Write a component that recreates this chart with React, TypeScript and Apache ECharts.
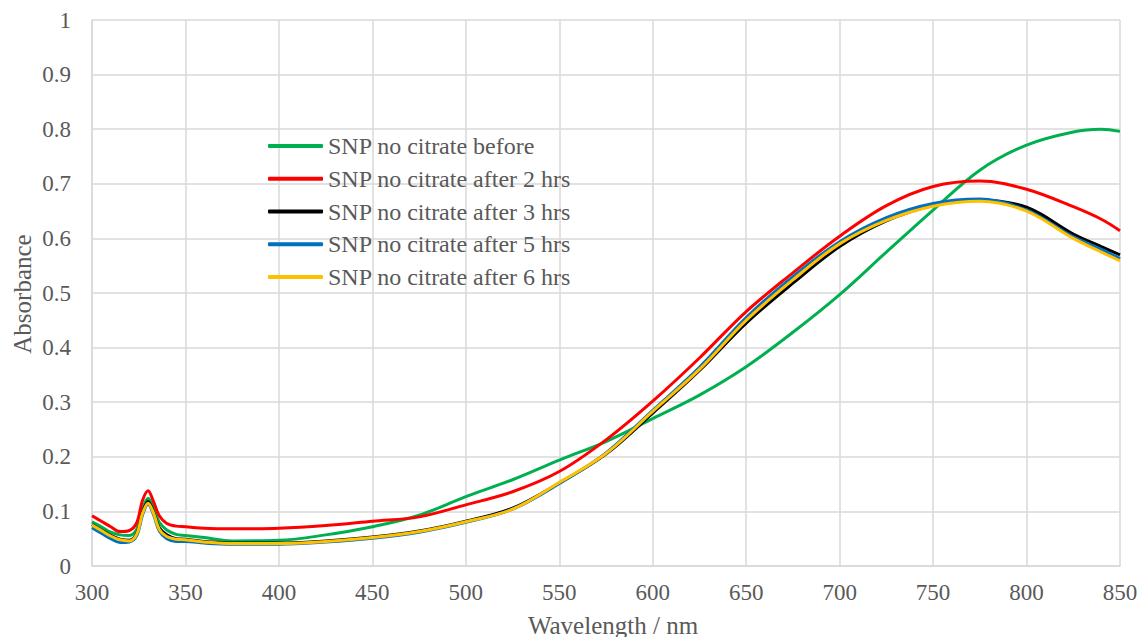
import React, { useEffect, useRef } from "react";
import * as echarts from "echarts";

const wavelengths = [300, 305, 310, 315, 320, 324, 327, 330, 333, 336, 340, 345, 350, 360, 375, 400, 425, 450, 475, 500, 525, 550, 575, 600, 625, 650, 675, 700, 725, 750, 775, 800, 825, 840, 850];

const seriesNames = [
  "SNP no citrate before",
  "SNP no citrate after 2 hrs",
  "SNP no citrate after 3 hrs",
  "SNP no citrate after 5 hrs",
  "SNP no citrate after 6 hrs",
];

const before = [0.081, 0.072, 0.062, 0.057, 0.056, 0.068, 0.104, 0.124, 0.106, 0.08, 0.066, 0.058, 0.056, 0.052, 0.046, 0.047, 0.057, 0.072, 0.093, 0.127, 0.158, 0.194, 0.228, 0.27, 0.313, 0.365, 0.428, 0.497, 0.575, 0.652, 0.725, 0.771, 0.795, 0.8, 0.796];
const after2 = [0.092, 0.082, 0.072, 0.063, 0.065, 0.08, 0.12, 0.138, 0.117, 0.092, 0.078, 0.073, 0.072, 0.069, 0.068, 0.069, 0.074, 0.082, 0.09, 0.112, 0.136, 0.173, 0.231, 0.302, 0.381, 0.466, 0.537, 0.604, 0.66, 0.695, 0.705, 0.69, 0.658, 0.635, 0.614];
const after3 = [0.076, 0.066, 0.056, 0.049, 0.047, 0.06, 0.098, 0.118, 0.098, 0.07, 0.057, 0.05, 0.049, 0.045, 0.042, 0.042, 0.046, 0.053, 0.064, 0.082, 0.106, 0.152, 0.205, 0.28, 0.358, 0.445, 0.518, 0.585, 0.632, 0.66, 0.67, 0.657, 0.608, 0.585, 0.57];
const after5 = [0.07, 0.06, 0.05, 0.043, 0.044, 0.056, 0.093, 0.113, 0.093, 0.064, 0.05, 0.045, 0.045, 0.042, 0.04, 0.04, 0.044, 0.051, 0.062, 0.08, 0.104, 0.151, 0.207, 0.285, 0.364, 0.455, 0.53, 0.594, 0.638, 0.664, 0.672, 0.652, 0.603, 0.58, 0.563];
const after6 = [0.075, 0.065, 0.055, 0.048, 0.046, 0.059, 0.096, 0.115, 0.096, 0.067, 0.054, 0.049, 0.048, 0.044, 0.041, 0.041, 0.045, 0.052, 0.063, 0.081, 0.104, 0.153, 0.206, 0.283, 0.36, 0.45, 0.524, 0.59, 0.633, 0.659, 0.668, 0.65, 0.6, 0.575, 0.559];

const seriesValues = [before, after2, after3, after5, after6];
const seriesColors = ["#00B050", "#FF0000", "#000000", "#0070C0", "#FFC000"];

const FONT = "Liberation Serif";
const TEXT_COLOR = "#595959";
const GRID_COLOR = "#D9D9D9";

export default function App() {
  const ref = useRef<HTMLDivElement>(null);

  useEffect(() => {
    if (!ref.current) return;
    const chart = echarts.init(ref.current, undefined, { renderer: "svg" });
    const option: any = {
      animation: false,
      backgroundColor: "#ffffff",
      textStyle: { fontFamily: FONT },
      grid: { left: 92, right: 25, top: 20, bottom: 71, containLabel: false },
      legend: {
        orient: "vertical",
        left: 268,
        top: 134,
        padding: 0,
        itemWidth: 55,
        itemHeight: 4,
        itemGap: 8.75,
        icon: "roundRect",
        data: seriesNames,
        textStyle: { fontFamily: FONT, fontSize: 24, color: TEXT_COLOR, lineHeight: 24 },
      },
      xAxis: {
        type: "value",
        min: 300,
        max: 850,
        interval: 50,
        axisLine: { show: true, lineStyle: { color: GRID_COLOR, width: 1.5 } },
        axisTick: { show: false },
        splitLine: { show: true, lineStyle: { color: GRID_COLOR, width: 1.5 } },
        axisLabel: { color: TEXT_COLOR, fontFamily: FONT, fontSize: 23, margin: 15 },
      },
      yAxis: {
        type: "value",
        min: 0,
        max: 1,
        interval: 0.1,
        axisLine: { show: true, lineStyle: { color: GRID_COLOR, width: 1.5 } },
        axisTick: { show: false },
        splitLine: { show: true, lineStyle: { color: GRID_COLOR, width: 1.5 } },
        axisLabel: {
          color: TEXT_COLOR,
          fontFamily: FONT,
          fontSize: 23,
          margin: 21,
          formatter: (v: number) => String(Math.round(v * 10) / 10),
        },
      },
      graphic: [
        {
          type: "text",
          x: 613,
          y: 625,
          style: {
            text: "Wavelength / nm",
            fontFamily: FONT,
            fontSize: 25,
            fill: TEXT_COLOR,
            align: "center",
            verticalAlign: "middle",
          },
        },
        {
          type: "text",
          x: 22,
          y: 294,
          rotation: Math.PI / 2,
          style: {
            text: "Absorbance",
            fontFamily: FONT,
            fontSize: 25,
            fill: TEXT_COLOR,
            align: "center",
            verticalAlign: "middle",
          },
        },
      ],
      series: seriesNames.map((name, i) => ({
        name,
        type: "line",
        showSymbol: false,
        symbol: "none",
        smooth: 0.35,
        data: wavelengths.map((w, j) => [w, seriesValues[i][j]]),
        lineStyle: { color: seriesColors[i], width: 3 },
        itemStyle: { color: seriesColors[i] },
        z: 2 + i,
      })),
    };
    chart.setOption(option);
    return () => chart.dispose();
  }, []);

  return <div ref={ref} style={{ width: 1145, height: 637, position: "absolute", left: 0, top: 0 }} />;
}
